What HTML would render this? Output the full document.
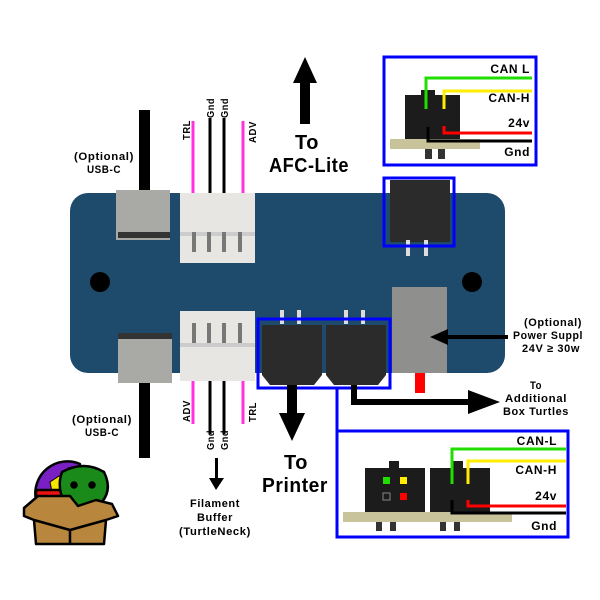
<!DOCTYPE html>
<html><head><meta charset="utf-8"><style>
html,body{margin:0;padding:0;background:#fff;}
svg{display:block}
text{font-family:"Liberation Sans Narrow","Liberation Sans",sans-serif;font-weight:bold;fill:#000;letter-spacing:0.6px}
</style></head><body>
<svg width="600" height="600" viewBox="0 0 600 600" xmlns="http://www.w3.org/2000/svg">
<rect x="139" y="110" width="11" height="90" fill="#000"/>
<rect x="139" y="380" width="11" height="78" fill="#000"/>
<g stroke-width="3">
<line x1="193" y1="121" x2="193" y2="200" stroke="#ff33dd"/>
<line x1="243" y1="121" x2="243" y2="200" stroke="#ff33dd"/>
<line x1="210" y1="118" x2="210" y2="200" stroke="#000"/>
<line x1="224" y1="118" x2="224" y2="200" stroke="#000"/>
<line x1="193" y1="375" x2="193" y2="424" stroke="#ff33dd"/>
<line x1="243" y1="375" x2="243" y2="424" stroke="#ff33dd"/>
<line x1="210" y1="375" x2="210" y2="434" stroke="#000"/>
<line x1="224" y1="375" x2="224" y2="434" stroke="#000"/>
</g>
<rect x="70" y="193" width="435" height="180" rx="18" fill="#1e4a6c"/>
<circle cx="100" cy="282" r="10" fill="#000"/>
<circle cx="472" cy="282" r="10" fill="#000"/>
<rect x="116" y="190" width="54" height="50" fill="#a9a9a6"/>
<rect x="118" y="232" width="52" height="6" fill="#333"/>
<rect x="118" y="333" width="54" height="50" fill="#a9a9a6"/>
<rect x="118" y="333" width="54" height="6" fill="#333"/>
<rect x="180" y="193" width="75" height="70" fill="#e8e6e2"/>
<rect x="180" y="232" width="75" height="4" fill="#ccc"/>
<g fill="#777"><rect x="192" y="232" width="4" height="20"/><rect x="207" y="232" width="4" height="20"/><rect x="222" y="232" width="4" height="20"/><rect x="238" y="232" width="4" height="20"/></g>
<rect x="180" y="311" width="75" height="70" fill="#e8e6e2"/>
<g fill="#777"><rect x="192" y="323" width="4" height="20"/><rect x="207" y="323" width="4" height="20"/><rect x="222" y="323" width="4" height="20"/><rect x="238" y="323" width="4" height="20"/></g>
<rect x="180" y="343" width="75" height="4" fill="#ccc"/>
<rect x="390" y="180" width="60" height="62" fill="#2b2b2b"/>
<rect x="406" y="240" width="4" height="16" fill="#ddd"/><rect x="424" y="240" width="4" height="16" fill="#ddd"/>
<rect x="384" y="178" width="70" height="68" fill="none" stroke="#0000ff" stroke-width="3"/>
<rect x="392" y="287" width="55" height="86" fill="#8f8f8d"/>
<rect x="415" y="373" width="10" height="20" fill="#ff0000"/>
<g fill="#ddd"><rect x="280" y="310" width="4" height="14"/><rect x="297" y="310" width="4" height="14"/><rect x="344" y="310" width="4" height="14"/><rect x="361" y="310" width="4" height="14"/></g>
<path d="M262 325H322V375L314 385H270L262 375Z" fill="#2b2b2b"/>
<path d="M326 325H386V375L378 385H334L326 375Z" fill="#2b2b2b"/>
<rect x="258" y="319" width="132" height="69" fill="none" stroke="#0000ff" stroke-width="3"/>
<line x1="337" y1="388" x2="337" y2="432" stroke="#0000ff" stroke-width="3"/>
<path d="M354 385V402H470" fill="none" stroke="#000" stroke-width="6"/>
<polygon points="468,390 500,402 468,414" fill="#000"/>
<line x1="440" y1="337" x2="508" y2="337" stroke="#000" stroke-width="4"/>
<polygon points="430,337 448,329 448,345" fill="#000"/>
<rect x="287" y="385" width="10" height="30" fill="#000"/>
<polygon points="279,413 305,413 292,441" fill="#000"/>
<rect x="300" y="80" width="10" height="44" fill="#000"/>
<polygon points="293,83 317,83 305,57" fill="#000"/>
<rect x="215" y="458" width="3" height="22" fill="#000"/>
<polygon points="209,478 224,478 216,490" fill="#000"/>
<rect x="384" y="57" width="152" height="108" fill="#fff" stroke="#0000ff" stroke-width="3"/>
<rect x="405" y="95" width="55" height="45" fill="#1c1c1c"/>
<rect x="421" y="90" width="14" height="8" fill="#1c1c1c"/>
<rect x="390" y="139" width="90" height="10" fill="#c8c39a"/>
<rect x="425" y="149" width="7" height="10" fill="#333"/><rect x="438" y="149" width="7" height="10" fill="#333"/>
<g fill="none" stroke-width="3">
<path d="M426 109V78H532" stroke="#22dd00"/>
<path d="M444 109V91H532" stroke="#ffee00"/>
<path d="M444 126V133H532" stroke="#ff0000"/>
<path d="M428 127V141H532" stroke="#000"/>
</g>
<g font-size="12" text-anchor="end">
<text x="530" y="73">CAN L</text><text x="530" y="102">CAN-H</text><text x="530" y="127">24v</text><text x="530" y="156">Gnd</text>
</g>
<rect x="337" y="431" width="231" height="106" fill="#fff" stroke="#0000ff" stroke-width="3"/>
<rect x="365" y="468" width="60" height="45" fill="#1c1c1c"/>
<rect x="389" y="461" width="10" height="8" fill="#1c1c1c"/>
<rect x="430" y="468" width="60" height="45" fill="#1c1c1c"/>
<rect x="453" y="461" width="10" height="8" fill="#1c1c1c"/>
<rect x="383" y="477" width="7" height="7" fill="#22dd00"/><rect x="400" y="477" width="7" height="7" fill="#ffee00"/>
<rect x="383" y="493" width="7" height="7" fill="none" stroke="#888" stroke-width="1"/><rect x="400" y="493" width="7" height="7" fill="#ff0000"/>
<rect x="343" y="512" width="169" height="10" fill="#c8c39a"/>
<g fill="#333"><rect x="376" y="522" width="6" height="9"/><rect x="390" y="522" width="6" height="9"/><rect x="440" y="522" width="6" height="9"/><rect x="454" y="522" width="6" height="9"/></g>
<g fill="none" stroke-width="3">
<path d="M452 484V449H566" stroke="#22dd00"/>
<path d="M468 484V461H566" stroke="#ffee00"/>
<path d="M468 500V506H566" stroke="#ff0000"/>
<path d="M452 500V513H566" stroke="#000"/>
</g>
<g font-size="12" text-anchor="end">
<text x="557" y="445">CAN-L</text><text x="557" y="474">CAN-H</text><text x="557" y="500">24v</text><text x="557" y="530">Gnd</text>
</g>
<g font-size="11" text-anchor="middle" lengthAdjust="spacingAndGlyphs">
<text x="104" y="160" textLength="60" lengthAdjust="spacingAndGlyphs">(Optional)</text><text x="104" y="173" textLength="34" lengthAdjust="spacingAndGlyphs">USB-C</text>
<text x="102" y="423" textLength="60" lengthAdjust="spacingAndGlyphs">(Optional)</text><text x="102" y="436" textLength="34" lengthAdjust="spacingAndGlyphs">USB-C</text>
<text x="215" y="507" textLength="50" lengthAdjust="spacingAndGlyphs">Filament</text><text x="215" y="521" textLength="36" lengthAdjust="spacingAndGlyphs">Buffer</text><text x="215" y="535" textLength="72" lengthAdjust="spacingAndGlyphs">(TurtleNeck)</text>
<text x="536" y="389" textLength="12" lengthAdjust="spacingAndGlyphs">To</text><text x="536" y="402" textLength="62" lengthAdjust="spacingAndGlyphs">Additional</text><text x="536" y="415" textLength="66" lengthAdjust="spacingAndGlyphs">Box Turtles</text>
</g>
<g font-size="11" text-anchor="end">
<text x="582" y="326" textLength="58" lengthAdjust="spacingAndGlyphs">(Optional)</text><text x="583" y="339" textLength="70" lengthAdjust="spacingAndGlyphs">Power Suppl</text><text x="580" y="352" textLength="58" lengthAdjust="spacingAndGlyphs">24V ≥ 30w</text>
</g>
<g font-size="20" text-anchor="middle">
<text x="307" y="149" textLength="24" lengthAdjust="spacingAndGlyphs">To</text><text x="309" y="172" textLength="80" lengthAdjust="spacingAndGlyphs">AFC-Lite</text>
<text x="296" y="469" textLength="24" lengthAdjust="spacingAndGlyphs">To</text><text x="295" y="492" textLength="66" lengthAdjust="spacingAndGlyphs">Printer</text>
</g>
<g font-size="10">
<text transform="translate(190,140) rotate(-90)" textLength="20" lengthAdjust="spacingAndGlyphs">TRL</text>
<text transform="translate(214,118) rotate(-90)" textLength="20" lengthAdjust="spacingAndGlyphs">Gnd</text>
<text transform="translate(228,118) rotate(-90)" textLength="20" lengthAdjust="spacingAndGlyphs">Gnd</text>
<text transform="translate(256,143) rotate(-90)" textLength="22" lengthAdjust="spacingAndGlyphs">ADV</text>
<text transform="translate(190,422) rotate(-90)" textLength="22" lengthAdjust="spacingAndGlyphs">ADV</text>
<text transform="translate(214,450) rotate(-90)" textLength="20" lengthAdjust="spacingAndGlyphs">Gnd</text>
<text transform="translate(228,450) rotate(-90)" textLength="20" lengthAdjust="spacingAndGlyphs">Gnd</text>
<text transform="translate(256,422) rotate(-90)" textLength="20" lengthAdjust="spacingAndGlyphs">TRL</text>
</g>
<g stroke="#000" stroke-width="2.5" stroke-linejoin="round">
<path d="M36 500A32 32 0 0 1 80 464L80 500Z" fill="#7a1fc4"/>
<path d="M50 482L68 470L76 490L52 492Z" fill="#f5e400" stroke-width="1"/>
<path d="M68 468L80 466L80 480Z" fill="#1a3adb" stroke-width="1"/>
<rect x="36" y="490" width="36" height="8" fill="#ee1111"/>
<path d="M62 472Q84 460 104 472Q114 492 98 506L66 506Q56 488 62 472Z" fill="#1a8a1a"/>
<circle cx="74" cy="485" r="2.5" fill="#000"/><circle cx="92" cy="485" r="2.5" fill="#000"/>
<path d="M24 508L38 496H70L78 506L96 500L112 504L118 516L106 520L104 544H36L34 520L24 516Z" fill="#b8863c"/>
<path d="M34 520L70 530L106 520M70 530V544" fill="none"/>
</g>
</svg>
</body></html>
